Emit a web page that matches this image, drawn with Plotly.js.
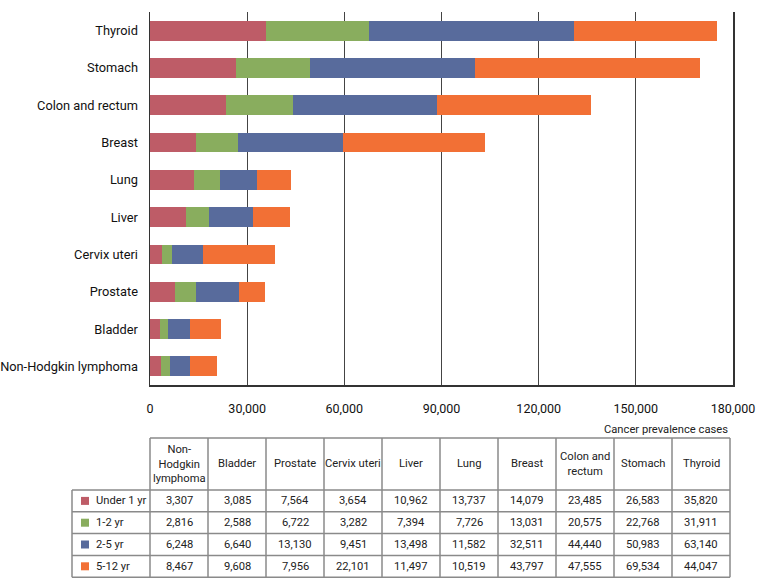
<!DOCTYPE html>
<html>
<head>
<meta charset="utf-8">
<script src="https://cdn.plot.ly/plotly-3.0.1.min.js"></script>
<style>html,body{margin:0;padding:0;background:#fff;}#chart{width:757px;height:586px;}</style>
</head>
<body>
<div id="chart"></div>
<script>
// ---- data ----
var categories = ["Non-Hodgkin lymphoma", "Bladder", "Prostate", "Cervix uteri", "Liver", "Lung", "Breast", "Colon and rectum", "Stomach", "Thyroid"];
var headerLabels = ["Non-<br>Hodgkin<br>lymphoma", "Bladder", "Prostate", "Cervix uteri", "Liver", "Lung", "Breast", "Colon and<br>rectum", "Stomach", "Thyroid"];
var seriesNames = ["Under 1 yr", "1-2 yr", "2-5 yr", "5-12 yr"];
var under1 = [3307, 3085, 7564, 3654, 10962, 13737, 14079, 23485, 26583, 35820];
var yr1to2 = [2816, 2588, 6722, 3282, 7394, 7726, 13031, 20575, 22768, 31911];
var yr2to5 = [6248, 6640, 13130, 9451, 13498, 11582, 32511, 44440, 50983, 63140];
var yr5to12 = [8467, 9608, 7956, 22101, 11497, 10519, 43797, 47555, 69534, 44047];
var xTicks = [0, 30000, 60000, 90000, 120000, 150000, 180000];
var xTickLabels = ["0", "30,000", "60,000", "90,000", "120,000", "150,000", "180,000"];
var unitLabel = "Cancer prevalence cases";

var colors = ["#be5c67", "#89ad5e", "#586b9c", "#f27035"];
var FONT = 'Roboto, "Liberation Sans", sans-serif';
var seriesValues = [under1, yr1to2, yr2to5, yr5to12];

var traces = seriesValues.map(function (vals, i) {
  return {
    type: 'bar', orientation: 'h', name: seriesNames[i],
    y: categories, x: vals,
    marker: {color: colors[i], line: {width: 0}},
    hoverinfo: 'none'
  };
});

// pixel -> paper helpers (plot area: x 150..733, y 12..385)
var L = 150, R = 733, T = 12, B = 385;
function px(p) { return (p - L) / (R - L); }
function py(p) { return (B - p) / (B - T); }

var shapes = [];
var annotations = [];
var lineColor = '#8a8a8a';
function hline(x0, x1, y) {
  shapes.push({type: 'line', xref: 'paper', yref: 'paper', x0: px(x0), x1: px(x1), y0: py(y), y1: py(y), line: {color: lineColor, width: 1.5}});
}
function vline(x, y0, y1) {
  shapes.push({type: 'line', xref: 'paper', yref: 'paper', x0: px(x), x1: px(x), y0: py(y0), y1: py(y1), line: {color: lineColor, width: 1.5}});
}

// table geometry
var tabLeft = 72, colStart = 150, colW = 58, nCols = categories.length;
var tabRight = colStart + colW * nCols;
var headTop = 438, headBot = 490, rowH = 21.8;
var rowsBottom = headBot + rowH * seriesNames.length;

hline(colStart, tabRight, headTop);
for (var r = 0; r <= seriesNames.length; r++) hline(tabLeft, tabRight, headBot + r * rowH);
vline(tabLeft, headBot, rowsBottom);
for (var c = 0; c <= nCols; c++) vline(colStart + c * colW, headTop, rowsBottom);

var tfont = {family: FONT, size: 11.2, color: '#222'};
for (var c = 0; c < nCols; c++) {
  annotations.push({xref: 'paper', yref: 'paper', x: px(colStart + (c + 0.5) * colW), y: py((headTop + headBot) / 2),
    text: headerLabels[c], showarrow: false, xanchor: 'center', yanchor: 'middle', align: 'center', font: tfont});
}
for (var r = 0; r < seriesNames.length; r++) {
  var yc = headBot + (r + 0.5) * rowH;
  shapes.push({type: 'rect', xref: 'paper', yref: 'paper', x0: px(81), x1: px(89), y0: py(yc - 4), y1: py(yc + 4),
    fillcolor: colors[r], line: {width: 0}});
  annotations.push({xref: 'paper', yref: 'paper', x: px(94), y: py(yc), text: seriesNames[r], showarrow: false,
    xanchor: 'left', yanchor: 'middle', font: tfont});
  for (var c = 0; c < nCols; c++) {
    annotations.push({xref: 'paper', yref: 'paper', x: px(colStart + (c + 0.5) * colW), y: py(yc),
      text: seriesValues[r][c].toLocaleString('en-US'), showarrow: false, xanchor: 'center', yanchor: 'middle', font: tfont});
  }
}
annotations.push({xref: 'paper', yref: 'paper', x: px(tabRight), y: py(429), text: unitLabel, showarrow: false,
  xanchor: 'right', yanchor: 'middle', font: tfont});

var layout = {
  width: 757, height: 586,
  margin: {l: L, r: 757 - R, t: T, b: 586 - B, pad: 0},
  paper_bgcolor: '#fff', plot_bgcolor: '#fff',
  barmode: 'stack', bargap: 0.47,
  showlegend: false,
  font: {family: FONT, color: '#111'},
  xaxis: {
    range: [0, 180000], tickvals: xTicks, ticktext: xTickLabels,
    showgrid: true, gridcolor: '#444', gridwidth: 1,
    zeroline: false, showline: true, linecolor: '#333', linewidth: 1.5,
    ticks: '', ticklabelstandoff: 11, ticklabeloverflow: 'allow',
    tickfont: {family: FONT, size: 12.5, color: '#111'}
  },
  yaxis: {
    showgrid: false, zeroline: false, showline: true, mirror: true, linecolor: '#333', linewidth: 1.5,
    ticks: '', ticklabelstandoff: 8,
    tickfont: {family: FONT, size: 12.8, color: '#111'}
  },
  shapes: shapes,
  annotations: annotations
};

Plotly.newPlot('chart', traces, layout, {displayModeBar: false, staticPlot: true});
</script>
</body>
</html>
